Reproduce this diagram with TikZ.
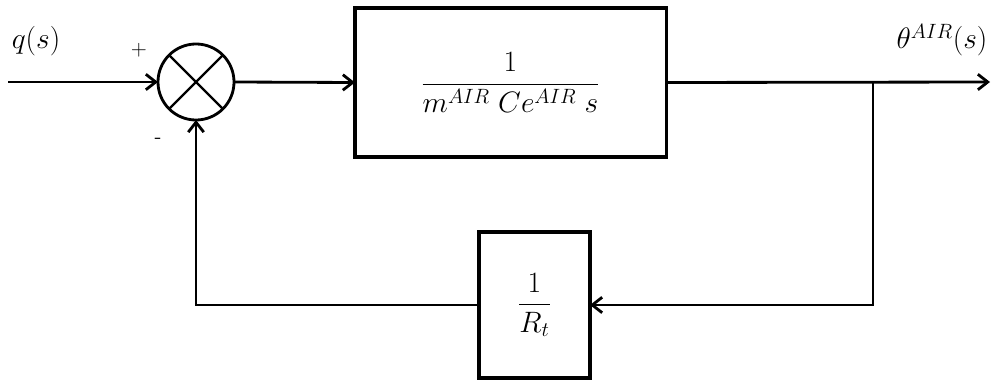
\documentclass[tikz,border=0pt]{standalone}
\usepackage{fix-cm}
\usepackage{amsmath,amssymb}
\usetikzlibrary{arrows.meta,shapes,positioning}

\begin{document}
\begin{tikzpicture}[x=0.025cm, y=-0.025cm, >={Straight Barb[length=7pt,width=11pt]},
    block/.style={draw, line width=2.2pt, outer sep=0pt, inner sep=0pt},
    sumnode/.style={draw, circle, line width=2pt, minimum size=1.9cm, outer sep=0pt, inner sep=0pt},
    wire/.style={line width=2pt},
    signs/.style={font=\fontsize{15}{18}\selectfont\sffamily},
    every node/.append style={font=\fontsize{21}{25}\selectfont}]
      \useasboundingbox (0,0) rectangle (992,381);

      % Summing junction
      \node[sumnode] (sum) at (196,82) {};
      \draw[line width=1.6pt] (sum.north west) -- (sum.south east);
      \draw[line width=1.6pt] (sum.north east) -- (sum.south west);
      \node[signs] (plus) at (139,50) {+};
      \node[signs] (minus) at (158,141) {-};

      % Blocks
      \node[block, minimum width=7.775cm, minimum height=3.725cm] (plant) at (510.5,82.5) {$\dfrac{1}{m^{AIR}\;Ce^{AIR}\;s}$};
      \node[block, minimum width=2.775cm, minimum height=3.65cm] (gain) at (534.5,305) {$\dfrac{1}{R_t}$};

      % Signals
      \coordinate (in) at (8,82);
      \coordinate (out) at (990,82);
      \coordinate (branch) at (873,82);
      \node (qin) at (36,41) {$q(s)$};
      \node (thout) at (942,40) {$\theta^{AIR}(s)$};

      % Forward path
      \draw[wire,->] (in) -- (sum.west);
      \draw[wire,->] (sum.east) -- (plant.west);
      \draw[wire,->] (plant.east) -- (out);

      % Feedback path
      \draw[wire,->] (branch) |- (gain.east);
      \draw[wire,->] (gain.west) -| (sum.south);
    \end{tikzpicture}
\end{document}
